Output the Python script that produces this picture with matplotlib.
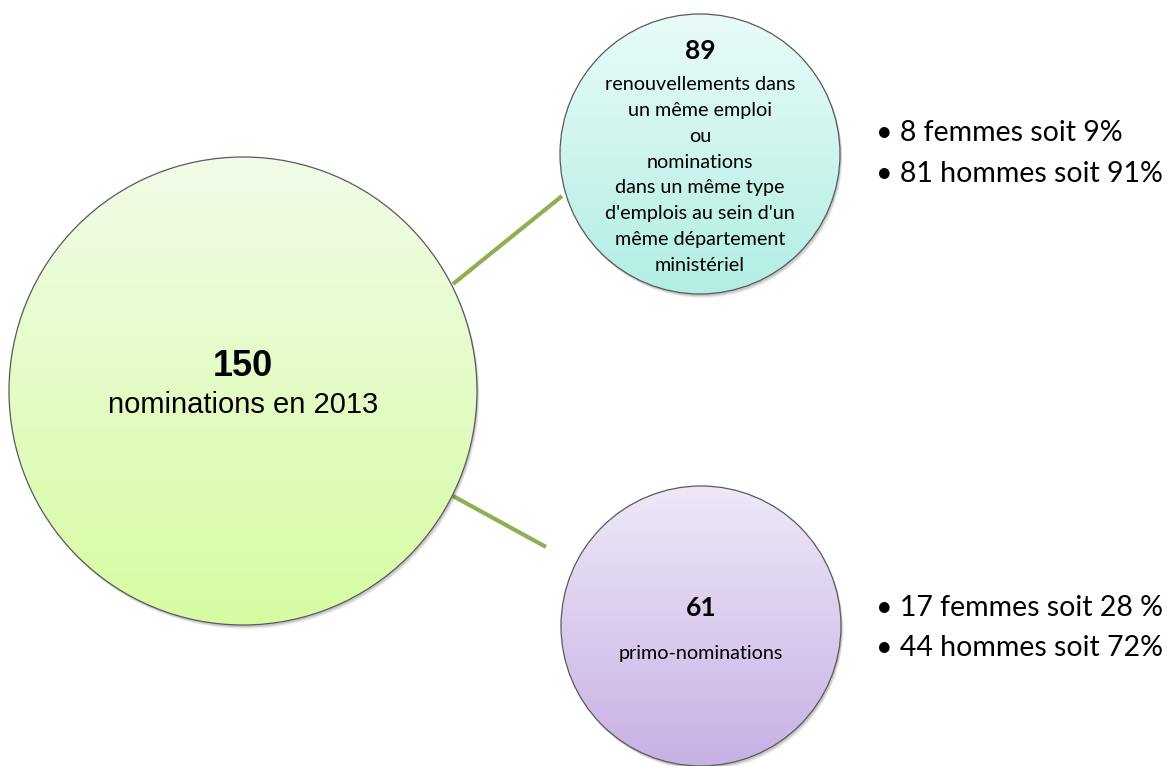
import numpy as np
import matplotlib.pyplot as plt
from matplotlib.patches import Circle
from matplotlib.colors import to_rgb

# data
totals = [150, 89, 61]
descriptions = [
    "nominations en 2013",
    "renouvellements dans\nun même emploi\nou\nnominations\ndans un même type\nd'emplois au sein d'un\nmême département\nministériel",
    "primo-nominations",
]
femmes = [8, 17]
hommes = [81, 44]
pct_femmes = ["9%", "28 %"]
pct_hommes = ["91%", "72%"]

# layout (pixels)
W, H = 1167, 766
centers = [(243, 391), (700, 154), (701, 626)]
radii = [234, 140, 140]
top_colors = ["#f1fbe8", "#e9fbf9", "#eee8f7"]
bottom_colors = ["#d7fca2", "#b2eee4", "#c7b1e5"]

fig = plt.figure(figsize=(W / 100, H / 100), dpi=100)
ax = fig.add_axes([0, 0, 1, 1])
ax.set_xlim(0, W)
ax.set_ylim(H, 0)
ax.axis("off")

# connector lines
ax.plot([453, 562], [284, 196], color="#8db152", lw=3, solid_capstyle="butt", zorder=1)
ax.plot([453, 546], [496, 547], color="#8db152", lw=3, solid_capstyle="butt", zorder=1)


def gradient_circle(cx, cy, r, c_top, c_bot):
    # soft shadow
    for k, a in zip([4, 3, 2], [0.06, 0.08, 0.10]):
        ax.add_patch(Circle((cx + k * 0.6, cy + k), r, color="black", alpha=a,
                            lw=0, zorder=2))
    t = np.linspace(0, 1, 256)[:, None, None]
    grad = (1 - t) * np.array(to_rgb(c_top)) + t * np.array(to_rgb(c_bot))
    im = ax.imshow(grad, extent=(cx - r, cx + r, cy + r, cy - r), origin="upper",
                   aspect="auto", zorder=3, interpolation="bilinear")
    clip = Circle((cx, cy), r, transform=ax.transData)
    im.set_clip_path(clip)
    ax.add_patch(Circle((cx, cy), r, fill=False, ec="#5a5a5a", lw=0.9, zorder=4))


for (cx, cy), r, ct, cb in zip(centers, radii, top_colors, bottom_colors):
    gradient_circle(cx, cy, r, ct, cb)

# big circle text (Arial-like)
ax.text(centers[0][0], 366, str(totals[0]), ha="center", va="center",
        family="Liberation Sans", weight="bold", fontsize=26, zorder=5)
ax.text(centers[0][0], 405, descriptions[0], ha="center", va="center",
        family="Liberation Sans", fontsize=21, zorder=5)

# top circle text (Calibri-like)
ax.text(700, 51, str(totals[1]), ha="center", va="center",
        family="Lato", weight="bold", fontsize=19, zorder=5)
ax.text(700, 175, descriptions[1], ha="center", va="center",
        family="Lato", fontsize=14.2, linespacing=1.64, zorder=5)

# bottom circle text
ax.text(701, 608, str(totals[2]), ha="center", va="center",
        family="Lato", weight="bold", fontsize=19, zorder=5)
ax.text(701, 653, descriptions[2], ha="center", va="center",
        family="Lato", fontsize=14.2, zorder=5)

# bullet lists
bullet_y = [(133, 174), (608, 648)]
for i in range(2):
    lines = [f"• {femmes[i]} femmes soit {pct_femmes[i]}",
             f"• {hommes[i]} hommes soit {pct_hommes[i]}"]
    for y, s in zip(bullet_y[i], lines):
        ax.text(876, y, s, ha="left", va="center", family="Lato",
                fontsize=20.5, zorder=5)

fig.savefig("out.png", dpi=100)
